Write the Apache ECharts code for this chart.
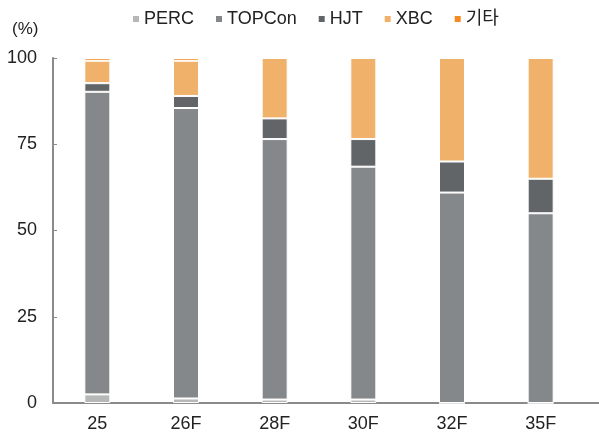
<!DOCTYPE html>
<html>
<head>
<meta charset="utf-8">
<script src="https://cdn.jsdelivr.net/npm/echarts@6/dist/echarts.min.js"></script>
<style>
  html, body { margin: 0; padding: 0; background: #fff; }
  #chart { width: 599px; height: 436px; }
</style>
</head>
<body>
<div id="chart"></div>
<script>
// Cell technology share by year (%)
var categories = ['25', '26F', '28F', '30F', '32F', '35F'];
var perc   = [2.5, 1.3, 1.0, 1.0, 0, 0];
var topcon = [87.7, 84.2, 75.5, 67.5, 61, 55];
var hjt    = [2.5, 3.5, 6.0, 8.0, 9, 10];
var xbc    = [6.5, 10.2, 17.5, 23.5, 30, 35];
var others = [0.8, 0.8, 0, 0, 0, 0];
var yTicks = [0, 25, 50, 75, 100];

var seriesDefs = [
  { name: 'PERC', data: perc, color: '#b6b7b7' },
  { name: 'TOPCon', data: topcon, color: '#85888a' },
  { name: 'HJT', data: hjt, color: '#626567' },
  { name: 'XBC', data: xbc, color: '#f0b16a' },
  { name: '기타', data: others, color: '#f58a23' }
];

var font = '"Liberation Sans", "Noto Sans CJK KR", Arial, sans-serif';
var axisColor = '#8a8a8a';
var chart = echarts.init(document.getElementById('chart'));
chart.setOption({
  animation: false,
  textStyle: { fontFamily: font },
  legend: {
    top: 5,
    left: 126,
    itemWidth: 8,
    itemHeight: 8,
    itemGap: 20,
    icon: 'rect',
    textStyle: { fontSize: 18, color: '#222', fontFamily: font, padding: [0, 0, 0, -1] },
    data: seriesDefs.map(function (s) { return s.name; })
  },
  graphic: [{
    type: 'text',
    left: 12,
    top: 21,
    style: { text: '(%)', fontSize: 17, fill: '#222', fontFamily: font }
  }],
  grid: { left: 53, right: 14, top: 58, bottom: 33 },
  xAxis: {
    type: 'category',
    data: categories,
    axisLine: { lineStyle: { color: axisColor, width: 2 } },
    axisTick: { inside: true, length: 5, lineStyle: { color: axisColor } },
    axisLabel: { fontSize: 18, color: '#222', margin: 12 }
  },
  yAxis: {
    type: 'value',
    min: 0,
    max: 100,
    interval: 25,
    axisLine: { show: true, lineStyle: { color: axisColor, width: 2 } },
    axisTick: { show: true, inside: true, length: 4, lineStyle: { color: axisColor } },
    splitLine: { show: false },
    axisLabel: {
      fontSize: 18, color: '#222', margin: 16,
      formatter: function (v) { return yTicks.indexOf(v) >= 0 ? String(v) : ''; }
    }
  },
  series: seriesDefs.map(function (s) {
    return {
      name: s.name,
      type: 'bar',
      stack: 'total',
      barWidth: 26,
      data: s.data,
      itemStyle: { color: s.color, borderColor: '#fff', borderWidth: 1 }
    };
  })
});

// Carry the category baseline on to the right edge of the canvas
var baseY = chart.convertToPixel({ yAxisIndex: 0 }, 0);
var gridRight = chart.getWidth() - 14;
chart.setOption({
  graphic: [{
    type: 'text',
    left: 12,
    top: 21,
    style: { text: '(%)', fontSize: 17, fill: '#222', fontFamily: font }
  }, {
    type: 'line',
    shape: { x1: gridRight, y1: baseY, x2: chart.getWidth(), y2: baseY },
    style: { stroke: axisColor, lineWidth: 2 },
    silent: true
  }]
});
</script>
</body>
</html>
